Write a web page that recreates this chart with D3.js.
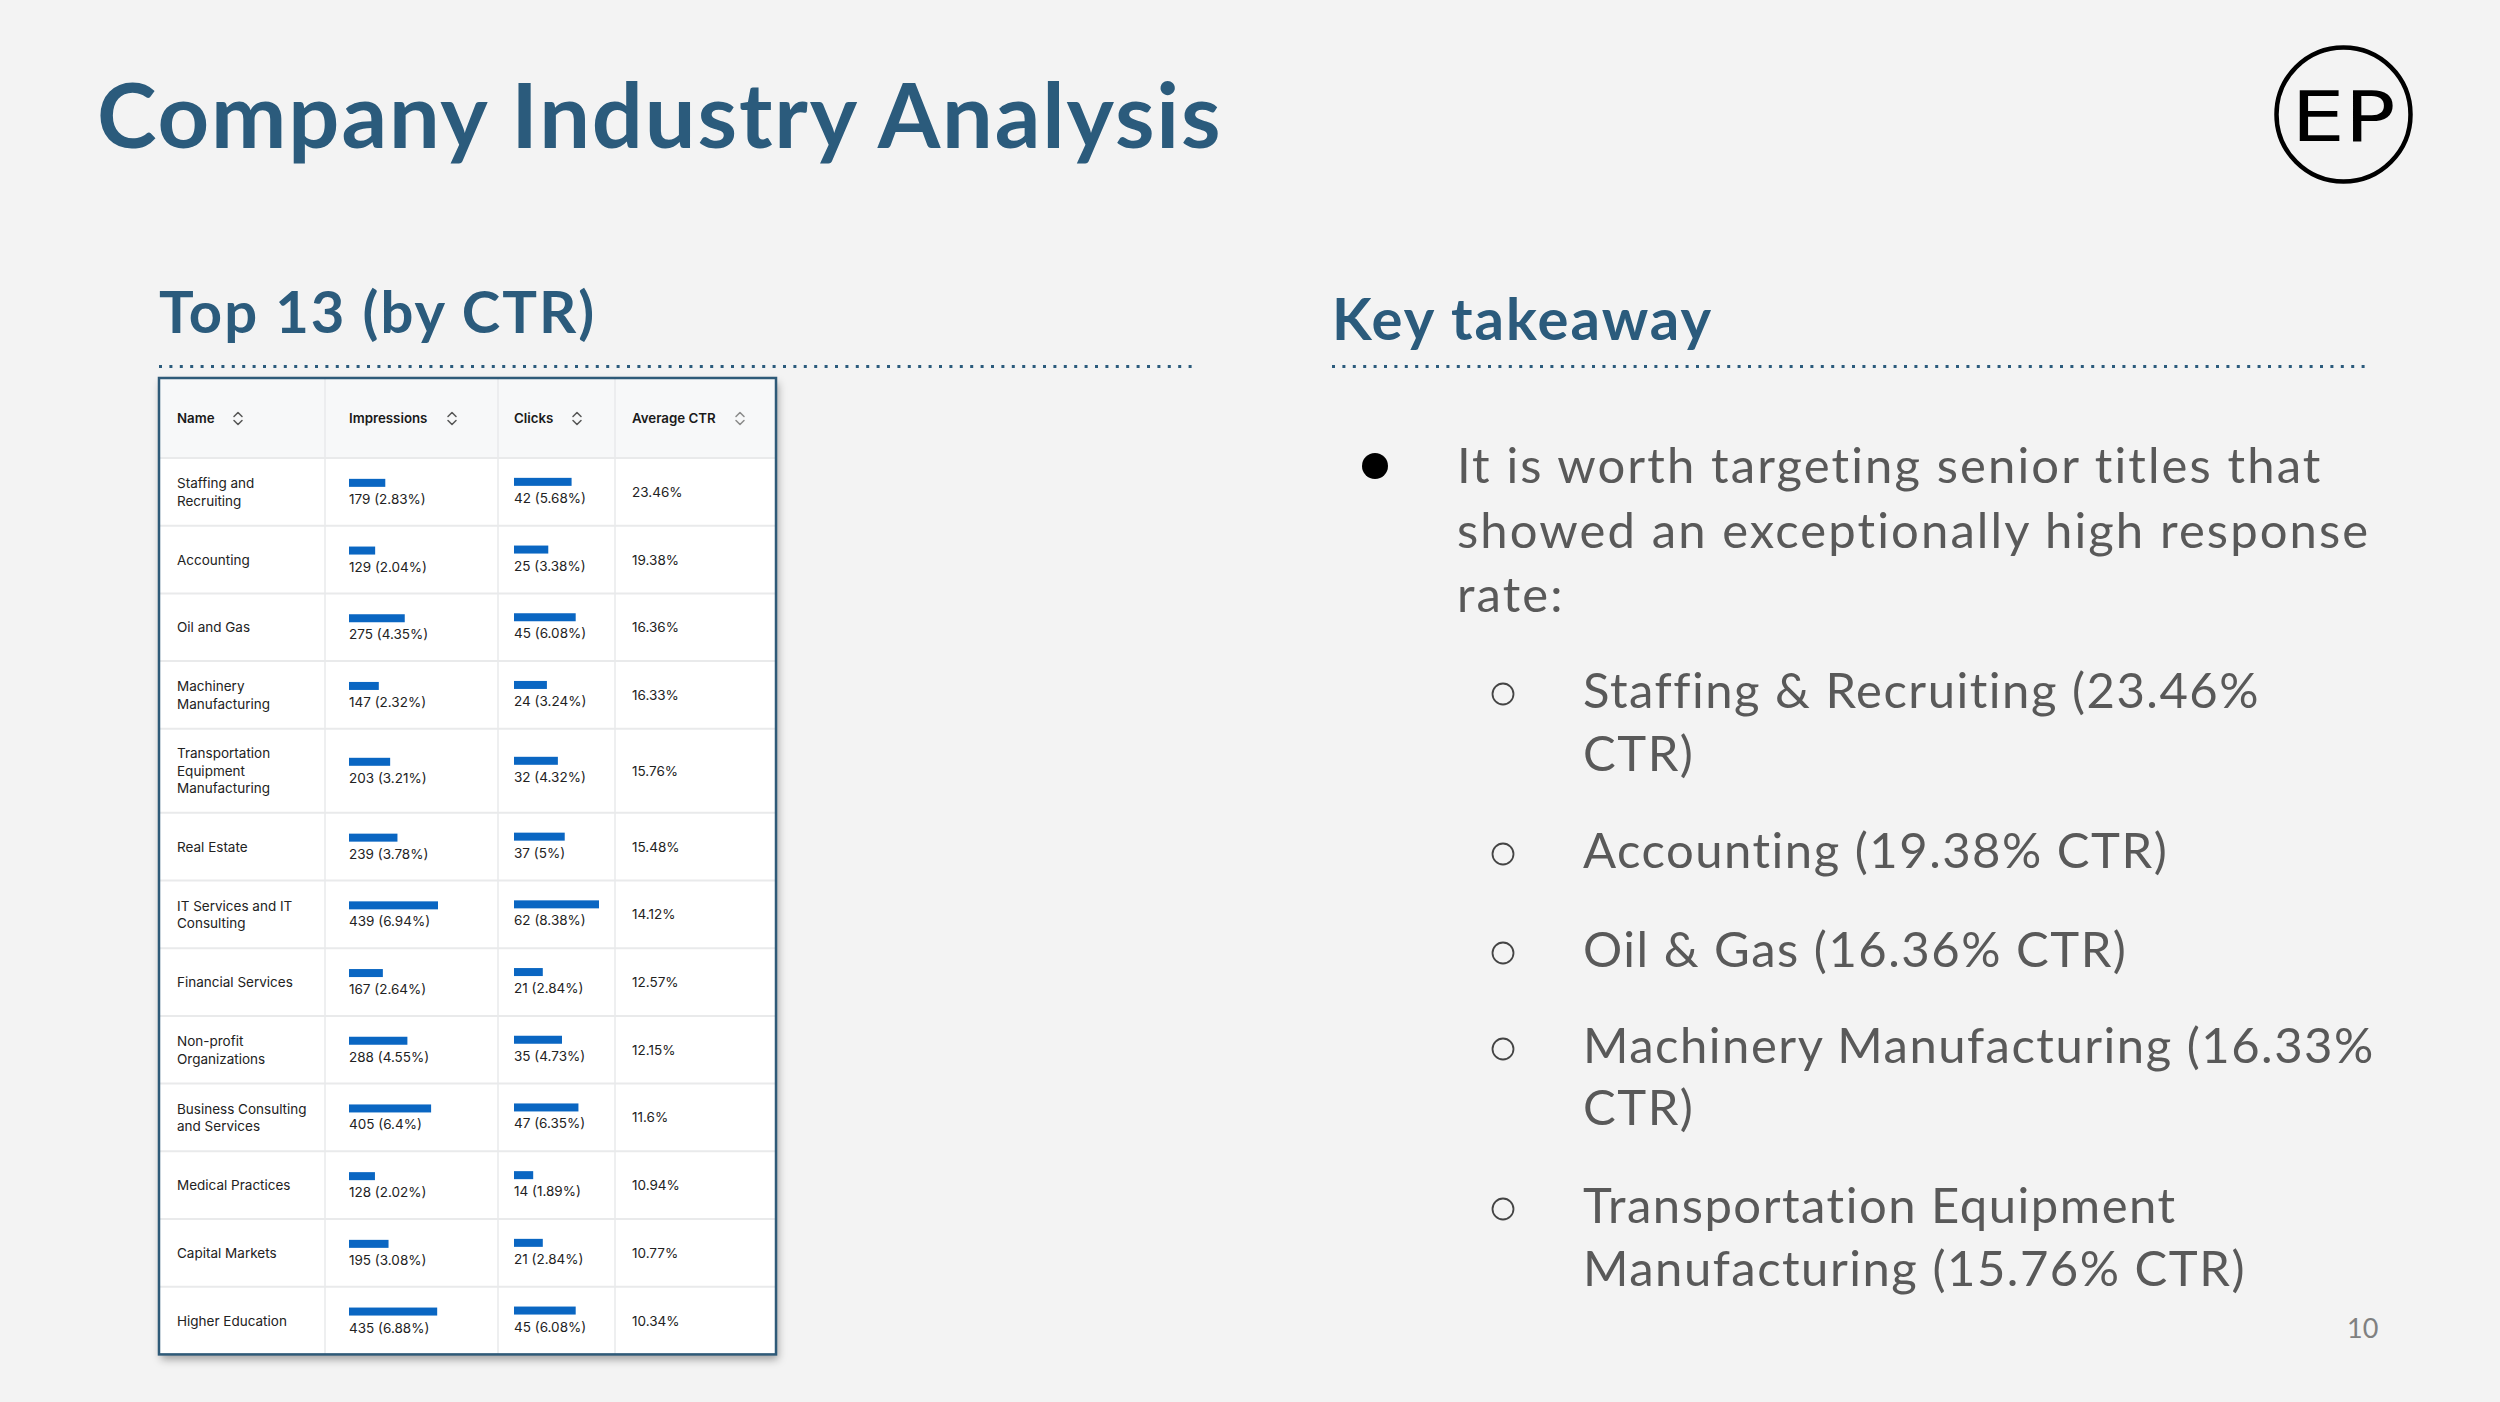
<!DOCTYPE html>
<html>
<head>
<meta charset="utf-8">
<script src="https://cdn.jsdelivr.net/npm/d3@7"></script>
<style>
  html, body { margin: 0; padding: 0; background: #f3f3f3; }
  svg { display: block; }
</style>
</head>
<body>
<svg id="chart" width="2500" height="1402"></svg>
<script>
// ---------------- DATA ----------------
const names = [
  ["Staffing and", "Recruiting"],
  ["Accounting"],
  ["Oil and Gas"],
  ["Machinery", "Manufacturing"],
  ["Transportation", "Equipment", "Manufacturing"],
  ["Real Estate"],
  ["IT Services and IT", "Consulting"],
  ["Financial Services"],
  ["Non-profit", "Organizations"],
  ["Business Consulting", "and Services"],
  ["Medical Practices"],
  ["Capital Markets"],
  ["Higher Education"]
];
const impressions = [179, 129, 275, 147, 203, 239, 439, 167, 288, 405, 128, 195, 435];
const impressionPct = ["2.83", "2.04", "4.35", "2.32", "3.21", "3.78", "6.94", "2.64", "4.55", "6.4", "2.02", "3.08", "6.88"];
const clicks = [42, 25, 45, 24, 32, 37, 62, 21, 35, 47, 14, 21, 45];
const clickPct = ["5.68", "3.38", "6.08", "3.24", "4.32", "5", "8.38", "2.84", "4.73", "6.35", "1.89", "2.84", "6.08"];
const avgCtr = ["23.46", "19.38", "16.36", "16.33", "15.76", "15.48", "14.12", "12.57", "12.15", "11.6", "10.94", "10.77", "10.34"];
const columns = ["Name", "Impressions", "Clicks", "Average CTR"];

const pageTitle = "Company Industry Analysis";
const leftHeading = "Top 13 (by CTR)";
const rightHeading = "Key takeaway";
const mainBullet = ["It is worth targeting senior titles that", "showed an exceptionally high response", "rate:"];
const subBullets = [
  ["Staffing & Recruiting (23.46%", "CTR)"],
  ["Accounting (19.38% CTR)"],
  ["Oil & Gas (16.36% CTR)"],
  ["Machinery Manufacturing (16.33%", "CTR)"],
  ["Transportation Equipment", "Manufacturing (15.76% CTR)"]
];
const pageNumber = "10";

// ---------------- LAYOUT ----------------
const svg = d3.select("#chart");
const headColor = "#2b5b7c";
const bodyColor = "#595959";
const barColor = "#0a66c2";
const titleFont = "Lato, 'Open Sans', sans-serif";
const tableFont = "Inter, Roboto, 'Noto Sans', sans-serif";

svg.append("rect").attr("width", 2500).attr("height", 1402).attr("fill", "#f3f3f3");

// Title
svg.append("text").attr("x", 97).attr("y", 148)
  .attr("font-family", titleFont).attr("font-weight", 700).attr("font-size", 90)
  .attr("letter-spacing", 1.9)
  .attr("fill", headColor).text(pageTitle);

// Logo
const logo = svg.append("g").attr("transform", "translate(2343.5,114.5)");
logo.append("circle").attr("r", 67).attr("fill", "none").attr("stroke", "#000").attr("stroke-width", 4.5);
logo.append("text").attr("x", 0).attr("y", 26).attr("text-anchor", "middle")
  .attr("font-family", "'DejaVu Sans', sans-serif").attr("font-weight", 400).attr("font-size", 70)
  .attr("textLength", 104).attr("lengthAdjust", "spacingAndGlyphs")
  .attr("fill", "#000").text("EP");

// Headings
svg.append("text").attr("x", 159).attr("y", 333)
  .attr("font-family", titleFont).attr("font-weight", 700).attr("font-size", 58)
  .attr("letter-spacing", 2).attr("fill", headColor).text(leftHeading);
svg.append("text").attr("x", 1332).attr("y", 340)
  .attr("font-family", titleFont).attr("font-weight", 700).attr("font-size", 58)
  .attr("letter-spacing", 2).attr("fill", headColor).text(rightHeading);

// Dotted rules
[[159, 1198], [1332, 2372]].forEach(([x1, x2]) => {
  svg.append("line").attr("x1", x1).attr("x2", x2).attr("y1", 366.5).attr("y2", 366.5)
    .attr("stroke", headColor).attr("stroke-width", 3).attr("stroke-dasharray", "3,7.4");
});

// ---------------- TABLE ----------------
const defs = svg.append("defs");
const f = defs.append("filter").attr("id", "shadow").attr("x", "-10%").attr("y", "-10%").attr("width", "130%").attr("height", "130%");
f.append("feDropShadow").attr("dx", 2).attr("dy", 5).attr("stdDeviation", 4)
  .attr("flood-color", "#000").attr("flood-opacity", 0.35);

const tLeft = 159, tRight = 776, tTop = 378, headerBottom = 458;
const colX = [159, 325, 498, 615, 776];
const textX = [177, 349, 514, 632];
const cellSize = 13.5;

// row heights from number of text lines
const rowH = names.map(n => n.length >= 3 ? 84 : 67.7);
const rowTop = [];
rowH.reduce((acc, h, i) => { rowTop[i] = acc; return acc + h; }, headerBottom);
const tBottom = rowTop[rowTop.length - 1] + rowH[rowH.length - 1];
const rowY = d3.scaleOrdinal().domain(d3.range(names.length)).range(rowTop);

const xImp = d3.scaleLinear().domain([0, 439]).range([0, 89]);
const xClk = d3.scaleLinear().domain([0, 62]).range([0, 85]);

const table = svg.append("g");
table.append("rect").attr("x", tLeft).attr("y", tTop).attr("width", tRight - tLeft).attr("height", tBottom - tTop)
  .attr("fill", "#ffffff").attr("filter", "url(#shadow)");
table.append("rect").attr("x", tLeft).attr("y", tTop).attr("width", tRight - tLeft).attr("height", headerBottom - tTop)
  .attr("fill", "#f7f8f9");

// horizontal grid lines
table.selectAll("line.h").data(rowTop).join("line").attr("class", "h")
  .attr("x1", tLeft).attr("x2", tRight).attr("y1", d => d).attr("y2", d => d)
  .attr("stroke", "#e9eaeb").attr("stroke-width", 2);
// vertical grid lines
table.selectAll("line.v").data(colX.slice(1, 4)).join("line").attr("class", "v")
  .attr("x1", d => d).attr("x2", d => d).attr("y1", tTop).attr("y2", tBottom)
  .attr("stroke", "#e9eaeb").attr("stroke-width", 1.5);

// header
const iconX = [238, 452, 577, 740];
columns.forEach((c, i) => {
  table.append("text").attr("x", textX[i]).attr("y", 423)
    .attr("font-family", tableFont).attr("font-weight", 600).attr("font-size", 13.3)
    .attr("fill", "#1a1a1a").text(c);
  const cx = iconX[i], cy = 418.5;
  table.append("path")
    .attr("d", `M${cx-4},${cy-2} L${cx},${cy-6} L${cx+4},${cy-2} M${cx-4},${cy+2} L${cx},${cy+6} L${cx+4},${cy+2}`)
    .attr("fill", "none").attr("stroke", i === 3 ? "#8a8a8a" : "#555").attr("stroke-width", 1.5)
    .attr("stroke-linecap", "round").attr("stroke-linejoin", "round");
});

// rows
const rows = table.selectAll("g.row").data(names.map((n, i) => i)).join("g").attr("class", "row")
  .attr("transform", i => `translate(0,${rowY(i) + rowH[i] / 2})`);

rows.each(function(i) {
  const g = d3.select(this);
  const lines = names[i];
  const first = -(lines.length - 1) * 8.8 + 5;
  const nt = g.append("text").attr("font-family", tableFont).attr("font-size", cellSize).attr("fill", "#222");
  lines.forEach((l, k) => nt.append("tspan").attr("x", textX[0]).attr("y", first + k * 17.6).text(l));
});

rows.append("rect").attr("x", textX[1]).attr("y", -13).attr("height", 8)
  .attr("width", i => xImp(impressions[i])).attr("fill", barColor);
rows.append("text").attr("x", textX[1]).attr("y", 12)
  .attr("font-family", tableFont).attr("font-size", cellSize).attr("fill", "#222")
  .text(i => `${impressions[i]} (${impressionPct[i]}%)`);

rows.append("rect").attr("x", textX[2]).attr("y", -14).attr("height", 8)
  .attr("width", i => xClk(clicks[i])).attr("fill", barColor);
rows.append("text").attr("x", textX[2]).attr("y", 11)
  .attr("font-family", tableFont).attr("font-size", cellSize).attr("fill", "#222")
  .text(i => `${clicks[i]} (${clickPct[i]}%)`);

rows.append("text").attr("x", textX[3]).attr("y", 5)
  .attr("font-family", tableFont).attr("font-size", cellSize).attr("fill", "#222")
  .text(i => `${avgCtr[i]}%`);

// border on top
table.append("rect").attr("x", tLeft).attr("y", tTop).attr("width", tRight - tLeft).attr("height", tBottom - tTop)
  .attr("fill", "none").attr("stroke", "#2e5a78").attr("stroke-width", 2.5);

// ---------------- BULLETS ----------------
const bodySize = 49;
const bodySpacing = 1.5;
svg.append("circle").attr("cx", 1375).attr("cy", 466).attr("r", 13).attr("fill", "#000");
const mb = svg.append("text").attr("font-family", titleFont).attr("font-size", bodySize)
  .attr("letter-spacing", 2.1).attr("fill", bodyColor);
mainBullet.forEach((l, k) => mb.append("tspan").attr("x", 1457).attr("y", 483 + k * 64.5).text(l));

const subBaselines = [[708, 771], [868], [967], [1063, 1125], [1223, 1286]];
subBullets.forEach((lines, i) => {
  const b = subBaselines[i];
  svg.append("ellipse").attr("cx", 1503).attr("cy", b[0] - 14).attr("rx", 10.5).attr("ry", 10.5)
    .attr("fill", "none").attr("stroke", "#444").attr("stroke-width", 1.8);
  const t = svg.append("text").attr("font-family", titleFont).attr("font-size", bodySize)
    .attr("letter-spacing", bodySpacing).attr("fill", bodyColor);
  lines.forEach((l, k) => t.append("tspan").attr("x", 1583).attr("y", b[k]).text(l));
});

svg.append("text").attr("x", 2347).attr("y", 1338)
  .attr("font-family", titleFont).attr("font-size", 27).attr("fill", "#808080").text(pageNumber);
</script>
</body>
</html>
